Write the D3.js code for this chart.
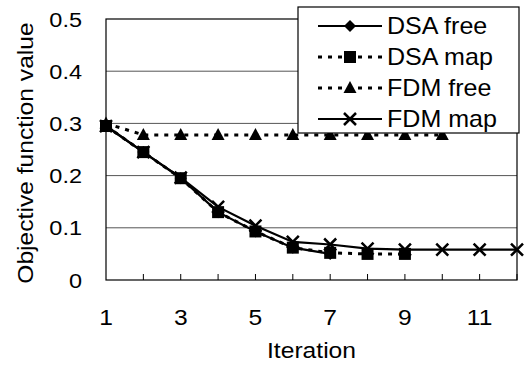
<!DOCTYPE html>
<html>
<head>
<meta charset="utf-8">
<script src="https://cdn.jsdelivr.net/npm/d3@7"></script>
<style>
  body { margin: 0; background: #fff; }
  text { font-family: "Liberation Sans", Arial, sans-serif; fill: #000; }
</style>
</head>
<body>
<div id="chart"></div>
<script>
// data
const iterations = [1, 2, 3, 4, 5, 6, 7, 8, 9, 10, 11, 12];
const xTickLabels = [1, 3, 5, 7, 9, 11];
const yTicks = [0, 0.1, 0.2, 0.3, 0.4, 0.5];
const dsaFree = [0.295, 0.245, 0.195, 0.13, 0.093, 0.062, 0.05];
const dsaMap = [0.295, 0.245, 0.195, 0.13, 0.093, 0.062, 0.052, 0.05, 0.05];
const fdmFree = [0.3, 0.278, 0.278, 0.278, 0.278, 0.278, 0.278, 0.278, 0.278, 0.278];
const fdmMap = [0.295, 0.245, 0.196, 0.14, 0.104, 0.073, 0.068, 0.06, 0.058, 0.058, 0.058, 0.058];

const seriesNames = ["DSA free", "DSA map", "FDM free", "FDM map"];
const seriesValues = [dsaFree, dsaMap, fdmFree, fdmMap];

const width = 525, height = 366;
const margin = { top: 19, right: 8, bottom: 86, left: 106 };
const stretch = 1.12; // font in the picture is a little wider than Arial

const svg = d3.select("#chart").append("svg")
  .attr("width", width).attr("height", height);

const x = d3.scaleLinear().domain([1, 12]).range([margin.left, width - margin.right]);
const y = d3.scaleLinear().domain([0, 0.5]).range([height - margin.bottom, margin.top]);

// gridlines
svg.selectAll("line.grid")
  .data(yTicks.slice(1, -1))
  .join("line")
  .attr("class", "grid")
  .attr("x1", x(1)).attr("x2", x(12))
  .attr("y1", d => y(d)).attr("y2", d => y(d))
  .attr("stroke", "#555").attr("stroke-width", 1);

// plot frame
svg.append("rect")
  .attr("x", x(1)).attr("y", y(0.5))
  .attr("width", x(12) - x(1)).attr("height", y(0) - y(0.5))
  .attr("fill", "none").attr("stroke", "#000").attr("stroke-width", 1.2);

// inward tick marks on the x axis
svg.selectAll("line.xtick")
  .data(iterations.slice(1))
  .join("line")
  .attr("class", "xtick")
  .attr("x1", d => x(d)).attr("x2", d => x(d))
  .attr("y1", y(0)).attr("y2", y(0) - 6)
  .attr("stroke", "#000");

// tick labels
svg.selectAll("text.ylab")
  .data(yTicks)
  .join("text")
  .attr("class", "ylab")
  .attr("transform", d => `translate(82,${y(d) + 7.5}) scale(${stretch},1)`)
  .attr("text-anchor", "end")
  .attr("font-size", 21)
  .text(d => d === 0 ? "0" : d3.format(".1f")(d));

svg.selectAll("text.xlab")
  .data(xTickLabels)
  .join("text")
  .attr("class", "xlab")
  .attr("transform", d => `translate(${x(d)},325) scale(${stretch},1)`)
  .attr("text-anchor", "middle")
  .attr("font-size", 22)
  .text(d => d);

// axis titles
svg.append("text")
  .attr("transform", `translate(${x(6.5)},358) scale(${stretch},1)`)
  .attr("text-anchor", "middle")
  .attr("font-size", 22)
  .text("Iteration");

svg.append("text")
  .attr("transform", `translate(33,153) rotate(-90) scale(${stretch},1)`)
  .attr("text-anchor", "middle")
  .attr("font-size", 22)
  .text("Objective function value");

// markers
function drawMarker(g, kind, cx, cy) {
  if (kind === 0) {
    g.append("path").attr("d", `M${cx},${cy - 6}L${cx + 6},${cy}L${cx},${cy + 6}L${cx - 6},${cy}Z`).attr("fill", "#000");
  } else if (kind === 1) {
    g.append("rect").attr("x", cx - 6).attr("y", cy - 6).attr("width", 12).attr("height", 12).attr("fill", "#000");
  } else if (kind === 2) {
    g.append("path").attr("d", `M${cx},${cy - 7}L${cx + 6.5},${cy + 5}L${cx - 6.5},${cy + 5}Z`).attr("fill", "#000");
  } else {
    g.append("path").attr("d", `M${cx - 6},${cy - 6}L${cx + 6},${cy + 6}M${cx + 6},${cy - 6}L${cx - 6},${cy + 6}`)
      .attr("stroke", "#000").attr("stroke-width", 2.5).attr("fill", "none");
  }
}

const dashed = [false, true, true, false];
const line = d3.line().x((d, i) => x(iterations[i])).y(d => y(d));

seriesValues.forEach((vals, k) => {
  const g = svg.append("g");
  g.append("path")
    .attr("d", line(vals))
    .attr("fill", "none")
    .attr("stroke", "#000")
    .attr("stroke-width", dashed[k] ? 3 : 2.2)
    .attr("stroke-dasharray", dashed[k] ? "4,6" : null);
  vals.forEach((v, i) => drawMarker(g, k, x(iterations[i]), y(v)));
});

// legend
const legend = svg.append("g");
legend.append("rect")
  .attr("x", 298).attr("y", 7).attr("width", 221).attr("height", 126)
  .attr("fill", "#fff").attr("stroke", "#000").attr("stroke-width", 1.2);

seriesNames.forEach((name, k) => {
  const ly = 26 + k * 31;
  const g = legend.append("g");
  g.append("line")
    .attr("x1", 318).attr("x2", 382).attr("y1", ly).attr("y2", ly)
    .attr("stroke", "#000")
    .attr("stroke-width", dashed[k] ? 3 : 2.2)
    .attr("stroke-dasharray", dashed[k] ? "4,6" : null);
  drawMarker(g, k, 350, ly);
  g.append("text")
    .attr("transform", `translate(387,${ly + 8}) scale(1.09,1)`)
    .attr("font-size", 23)
    .text(name);
});
</script>
</body>
</html>
